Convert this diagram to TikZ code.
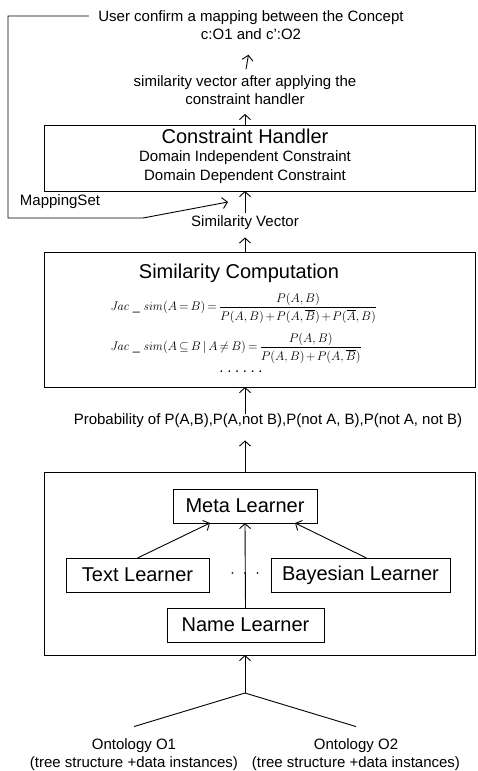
\RequirePackage{fix-cm}
\documentclass[tikz,border=0pt]{standalone}
\usepackage{amsmath}
\usepackage[no-math]{fontspec}
\setmainfont{Liberation Sans}
\usetikzlibrary{arrows.meta,positioning}

\newcommand{\jacfont}{\fontsize{12.5}{15}\selectfont\thickmuskip=3mu\medmuskip=2mu}

\begin{document}
\begin{tikzpicture}[x=1pt,y=-1pt,line width=0.9pt]
  \tikzset{>={Straight Barb[length=5pt,width=11pt]}}
  \tikzset{box/.style={draw,rectangle,inner sep=0pt,outer sep=0pt},
           txt/.style={inner sep=0pt,align=center,font=\fontsize{15}{18}\selectfont},
           ttl/.style={inner sep=0pt,font=\fontsize{20}{24}\selectfont},
           lrn/.style={box,minimum height=34pt,font=\fontsize{20}{24}\selectfont},
           jac/.style={anchor=west,inner sep=0pt,font=\jacfont}}
  \useasboundingbox (0,0) rectangle (477,771);

%%%%%%%%%%%%%%%%%%%%%%%%%%
  \node[box,minimum width=431pt,minimum height=66pt] (CH) at (260,158) {};
  \node[ttl] (NCH) at (245,136) {Constraint Handler};
  \node[txt] (NDomInd) at (245,158) {Domain Independent Constraint};
  \node[txt] (NDomDep) at (245,177) {Domain Dependent Constraint};

%%%%%%%%%%%%%%%%%%%%%%%%%%
  \node[box,minimum width=431pt,minimum height=135pt] (SC) at (260,319.5) {};
  \node[ttl] (NSC) at (239,273) {Similarity Computation};
  \node[jac] (NJac1) at (110,308)
    {$\mathit{Jac}\ \_\ \mathit{sim}(A=B)=\dfrac{P(A,B)}{P(A,B)+P(A,\overline{B})+P(\overline{A},B)}$};
  \node[jac] (NJac2) at (110,348)
    {$\mathit{Jac}\ \_\ \mathit{sim}(A\subseteq B\,|\,A\neq B)=\dfrac{P(A,B)}{P(A,B)+P(A,\overline{B})}$};
  \node[txt] (NSCDots) at (241,372) {.\hspace{3.6pt}.\hspace{3.6pt}.\hspace{3.6pt}.\hspace{3.6pt}.\hspace{3.6pt}.};

%%%%%%%%%%%%%%%%%%%%%%%%%%
  \node[box,minimum width=431pt,minimum height=183pt] (LB) at (259.5,563.5) {};
  \node[lrn,minimum width=144pt] (NMeta) at (245,506) {Meta Learner};
  \node[lrn,minimum width=143pt] (NText) at (137.5,575) {Text Learner};
  \node[lrn,minimum width=179pt] (NBayes) at (360.5,575) {Bayesian Learner};
  \node[lrn,minimum width=157pt] (NName) at (245.5,625) {Name Learner};
  \node[txt] (NDots) at (245,575) {·\hspace{7.5pt}·\hspace{7.5pt}·};

%TEXTS
  \node[txt] (NUser) at (251,25) {User confirm a mapping between the Concept\\c:O1 and c':O2};
  \node[txt] (NAfter) at (245,90) {similarity vector after applying the\\constraint handler};
  \node[txt] (NSimVec) at (245,223) {Similarity Vector};
  \node[txt] (NMapSet) at (60,202) {MappingSet};
  \node[txt] (NProb) at (268,421) {Probability of P(A,B),P(A,not B),P(not A, B),P(not A, not B)};
  \node[txt] (NOnt1) at (134,755) {Ontology O1\\(tree structure +data instances)};
  \node[txt] (NOnt2) at (356,755) {Ontology O2\\(tree structure +data instances)};

  \coordinate (J) at (245,693);
  \coordinate (FbLeft) at (8,218);
  \coordinate (FbBend) at (143,218);
  \coordinate (FbTip) at (228,202);

% UP
  \draw[->,shorten <=6pt,shorten >=15pt] (NAfter.north) -- (NUser.south);
  \draw[->,shorten >=9pt] (CH.north -| NSimVec) -- (NAfter.south);
  \draw[->,shorten <=3pt] (NSimVec.north) -- (CH.south -| NSimVec);
  \draw[->,shorten >=7pt] (SC.north -| NSimVec) -- (NSimVec.south);
  \draw[->] (NProb.north -| NSimVec) -- (SC.south -| NSimVec);
  \draw[->,shorten >=12pt] (LB.north -| NSimVec) -- (NProb.south -| NSimVec);
  \draw[->] (J) -- (LB.south -| J);
  \draw ([yshift=12pt]NOnt1.north) -- (J) -- ([yshift=12pt]NOnt2.north);

% LEARNERS
  \draw[->] (NText.north) -- ([xshift=-35pt]NMeta.south);
  \draw[->] ([xshift=6pt]NBayes.north) -- ([xshift=50pt]NMeta.south);
  \draw[->] (NName.north) -- (NMeta.south);

% FEEDBACK
  \draw[->] ([xshift=-9pt,yshift=9pt]NUser.west) -| (FbLeft) -- (FbBend) -- (FbTip);

\end{tikzpicture}
\end{document}
